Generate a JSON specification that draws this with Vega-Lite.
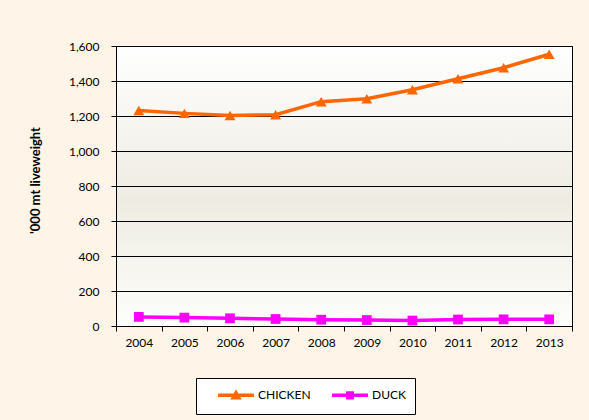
{
  "$schema": "https://vega.github.io/schema/vega-lite/v6.json",
  "width": 456,
  "height": 280,
  "autosize": {"type": "none"},
  "padding": {"left": 116, "top": 46, "right": 17, "bottom": 94},
  "background": "#FEF4E8",
  "view": {
    "stroke": "#000000",
    "strokeWidth": 1,
    "fill": {
      "gradient": "linear",
      "x1": 0, "y1": 0, "x2": 0, "y2": 1,
      "stops": [
        {"offset": 0, "color": "#FFFFFF"},
        {"offset": 0.55, "color": "#EEECE2"},
        {"offset": 1, "color": "#FDFDFB"}
      ]
    }
  },
  "data": {
    "values": [
      {"year": "2004", "series": "CHICKEN", "value": 1232},
      {"year": "2005", "series": "CHICKEN", "value": 1215},
      {"year": "2006", "series": "CHICKEN", "value": 1203},
      {"year": "2007", "series": "CHICKEN", "value": 1207},
      {"year": "2008", "series": "CHICKEN", "value": 1282},
      {"year": "2009", "series": "CHICKEN", "value": 1299},
      {"year": "2010", "series": "CHICKEN", "value": 1350},
      {"year": "2011", "series": "CHICKEN", "value": 1413},
      {"year": "2012", "series": "CHICKEN", "value": 1476},
      {"year": "2013", "series": "CHICKEN", "value": 1553},
      {"year": "2004", "series": "DUCK", "value": 52},
      {"year": "2005", "series": "DUCK", "value": 48},
      {"year": "2006", "series": "DUCK", "value": 44},
      {"year": "2007", "series": "DUCK", "value": 40},
      {"year": "2008", "series": "DUCK", "value": 36},
      {"year": "2009", "series": "DUCK", "value": 34},
      {"year": "2010", "series": "DUCK", "value": 31},
      {"year": "2011", "series": "DUCK", "value": 37},
      {"year": "2012", "series": "DUCK", "value": 38},
      {"year": "2013", "series": "DUCK", "value": 38}
    ]
  },
  "encoding": {
    "x": {
      "field": "year",
      "type": "ordinal",
      "scale": {"type": "band", "paddingInner": 0, "paddingOuter": 0},
      "axis": {
        "title": null,
        "labelAngle": 0,
        "tickBand": "extent",
        "tickSize": 5,
        "tickColor": "#000000",
        "domainColor": "#000000",
        "labelPadding": 6,
        "labelFontSize": 12,
        "labelColor": "#000000",
        "grid": false
      }
    },
    "y": {
      "field": "value",
      "type": "quantitative",
      "scale": {"domain": [0, 1600], "nice": false},
      "axis": {
        "values": [0, 200, 400, 600, 800, 1000, 1200, 1400, 1600],
        "format": ",d",
        "title": "'000 mt liveweight",
        "titleFontSize": 13,
        "titleFontWeight": "bold",
        "titleColor": "#000000",
        "titleAngle": -90,
        "titleAlign": "center",
        "titleBaseline": "middle",
        "titleX": -81,
        "titleY": 134,
        "grid": true,
        "gridColor": "#000000",
        "gridOpacity": 1,
        "gridWidth": 1,
        "tickSize": 5,
        "tickColor": "#000000",
        "domainColor": "#000000",
        "labelPadding": 12,
        "labelFontSize": 12,
        "labelColor": "#000000"
      }
    },
    "color": {
      "field": "series",
      "type": "nominal",
      "scale": {"domain": ["CHICKEN", "DUCK"], "range": ["#FF6600", "#FF00FF"]},
      "legend": {
        "title": null,
        "orient": "none",
        "legendX": 80,
        "legendY": 332,
        "direction": "horizontal",
        "fillColor": "#FFFFFF",
        "strokeColor": "#000000",
        "padding": 9,
        "symbolSize": 144,
        "symbolOffset": 23,
        "symbolStrokeWidth": 3.5,
        "labelFontSize": 12,
        "labelColor": "#000000",
        "labelOffset": 14,
        "columnPadding": 8,
        "encoding": {
          "symbols": {
            "shape": {"value": {"expr": "datum.value === 'CHICKEN' ? 'M-3,0H3M-0.45,0.38L0,-0.42L0.45,0.38Z' : 'M-3,0H3M-0.38,-0.38H0.38V0.38H-0.38Z'"}},
            "fill": {"value": {"expr": "scale('color', datum.value)"}},
            "stroke": {"value": {"expr": "scale('color', datum.value)"}},
            "strokeWidth": {"value": 3.5},
            "opacity": {"value": 1}
          }
        }
      }
    }
  },
  "layer": [
    {"mark": {"type": "line", "strokeWidth": 3.5}},
    {
      "transform": [{"filter": "datum.series === 'CHICKEN'"}],
      "mark": {"type": "point", "shape": "triangle-up", "size": 120, "filled": true, "opacity": 1, "strokeWidth": 0}
    },
    {
      "transform": [{"filter": "datum.series === 'DUCK'"}],
      "mark": {"type": "point", "shape": "square", "size": 95, "filled": true, "opacity": 1, "strokeWidth": 0}
    }
  ],
  "config": {
    "font": "Lato",
    "axis": {"labelFont": "Lato", "titleFont": "Lato"},
    "legend": {"labelFont": "Lato"}
  }
}
